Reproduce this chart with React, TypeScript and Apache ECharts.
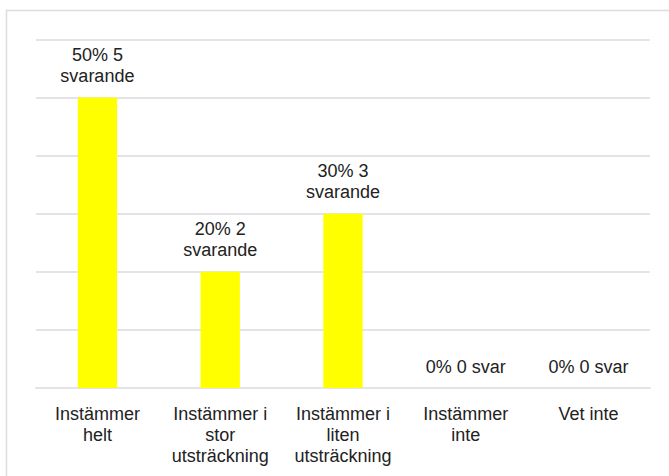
import React, { useEffect, useRef } from "react";
import * as echarts from "echarts";

// Survey answers: share of respondents (%) and number of respondents
const categories = [
  "Instämmer\nhelt",
  "Instämmer i\nstor\nutsträckning",
  "Instämmer i\nliten\nutsträckning",
  "Instämmer\ninte",
  "Vet inte",
];
const percentValues = [50, 20, 30, 0, 0];
const respondentCounts = [5, 2, 3, 0, 0];
const yTicks = [0, 10, 20, 30, 40, 50, 60];

const FONT = "'Liberation Sans', Arial, sans-serif";
const TEXT_COLOR = "#222222";
const LINE_COLOR = "#e3e3e8";

export default function App() {
  const ref = useRef<HTMLDivElement>(null);

  useEffect(() => {
    if (!ref.current) return;
    const chart = echarts.init(ref.current, undefined, { renderer: "svg" });
    chart.setOption({
      animation: false,
      backgroundColor: "#ffffff",
      textStyle: { fontFamily: FONT },
      graphic: [
        {
          type: "polyline",
          shape: { points: [[6.5, 476], [6.5, 10.5], [669, 10.5]] },
          style: { stroke: "#dcdce0", lineWidth: 1.5, fill: "none" },
          silent: true,
        },
      ],
      grid: { left: 36, right: 19, top: 39.5, bottom: 88, containLabel: false },
      xAxis: {
        type: "category",
        data: categories,
        axisLine: { show: true, lineStyle: { color: LINE_COLOR, width: 2 } },
        axisTick: { show: false },
        axisLabel: {
          interval: 0,
          margin: 15,
          color: TEXT_COLOR,
          fontFamily: FONT,
          fontSize: 18,
          lineHeight: 21,
        },
      },
      yAxis: {
        type: "value",
        min: yTicks[0],
        max: yTicks[yTicks.length - 1],
        interval: yTicks[1] - yTicks[0],
        axisLabel: { show: false },
        axisLine: { show: false },
        axisTick: { show: false },
        splitLine: { lineStyle: { color: LINE_COLOR, width: 2 } },
      },
      series: [
        {
          type: "bar",
          data: percentValues,
          barWidth: "32%",
          itemStyle: { color: "#ffff00" },
          label: {
            show: true,
            position: "top",
            distance: 11,
            color: TEXT_COLOR,
            fontFamily: FONT,
            fontSize: 18,
            lineHeight: 21,
            align: "center",
            formatter: (p: any) => {
              const n = respondentCounts[p.dataIndex];
              return n > 0 ? `${p.value}% ${n}\nsvarande` : `${p.value}% ${n} svar`;
            },
          },
        },
      ],
    });
    return () => chart.dispose();
  }, []);

  return (
    <div
      ref={ref}
      style={{ position: "fixed", left: 0, top: 0, width: 669, height: 476 }}
    />
  );
}
